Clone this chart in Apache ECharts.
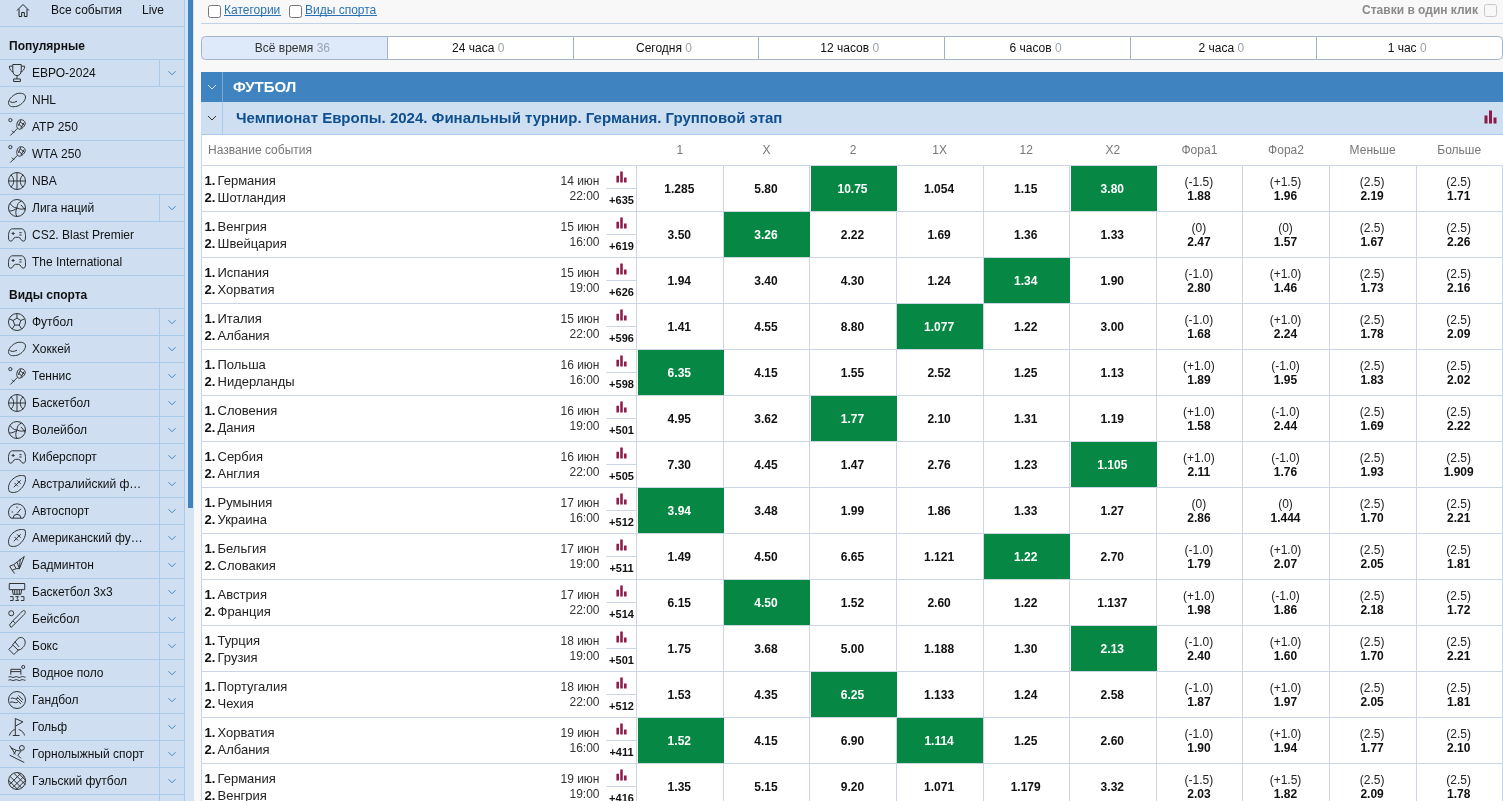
<!DOCTYPE html>
<html>
<head>
<meta charset="utf-8">
<style>
html, body { margin: 0; padding: 0; background: #f8f8f8; overflow: hidden; height: 801px; }
/* the last table row runs past the window, so the canvas is taller than it */
#chart { width: 1503px; height: 840px; }
</style>
<script src="https://cdn.jsdelivr.net/npm/echarts@6/dist/echarts.min.js"></script>
</head>
<body>
<div id="chart"></div>
<script>
// sidebar
const popularNames = ['ЕВРО-2024', 'NHL', 'ATP 250', 'WTA 250', 'NBA', 'Лига наций', 'CS2. Blast Premier', 'The International']
const popularIcons = ['trophy', 'puck', 'racket', 'racket', 'basket', 'volley', 'pad', 'pad']
const popularArrows = [1, 0, 0, 0, 0, 1, 0, 0]
const sportNames = ['Футбол', 'Хоккей', 'Теннис', 'Баскетбол', 'Волейбол', 'Киберспорт', 'Австралийский ф…', 'Автоспорт', 'Американский фу…', 'Бадминтон', 'Баскетбол 3х3', 'Бейсбол', 'Бокс', 'Водное поло', 'Гандбол', 'Гольф', 'Горнолыжный спорт', 'Гэльский футбол', '']
const sportIcons = ['soccer', 'puck', 'racket', 'basket', 'volley', 'pad', 'rugby', 'speed', 'rugby', 'shuttle', 'hoop', 'bat', 'glove', 'water', 'hand', 'golf', 'ski', 'gaelic', 'none']

// time filter
const tabNames = ['Всё время', '24 часа', 'Сегодня', '12 часов', '6 часов', '2 часа', '1 час']
const tabCounts = [36, 0, 0, 0, 0, 0, 0]

// events
const team1 = ['Германия', 'Венгрия', 'Испания', 'Италия', 'Польша', 'Словения', 'Сербия', 'Румыния', 'Бельгия', 'Австрия', 'Турция', 'Португалия', 'Хорватия', 'Германия']
const team2 = ['Шотландия', 'Швейцария', 'Хорватия', 'Албания', 'Нидерланды', 'Дания', 'Англия', 'Украина', 'Словакия', 'Франция', 'Грузия', 'Чехия', 'Албания', 'Венгрия']
const dates = ['14 июн', '15 июн', '15 июн', '15 июн', '16 июн', '16 июн', '16 июн', '17 июн', '17 июн', '17 июн', '18 июн', '18 июн', '19 июн', '19 июн']
const times = ['22:00', '16:00', '19:00', '22:00', '16:00', '19:00', '22:00', '16:00', '19:00', '22:00', '19:00', '22:00', '16:00', '19:00']
const moreBets = ['+635', '+619', '+626', '+596', '+598', '+501', '+505', '+512', '+511', '+514', '+501', '+512', '+411', '+416']

// odds
const oddsColumns = ['1', 'X', '2', '1X', '12', 'X2', 'Фора1', 'Фора2', 'Меньше', 'Больше']
const odds1 = ['1.285', '3.50', '1.94', '1.41', '6.35', '4.95', '7.30', '3.94', '1.49', '6.15', '1.75', '1.53', '1.52', '1.35']
const oddsX = ['5.80', '3.26', '3.40', '4.55', '4.15', '3.62', '4.45', '3.48', '4.50', '4.50', '3.68', '4.35', '4.15', '5.15']
const odds2 = ['10.75', '2.22', '4.30', '8.80', '1.55', '1.77', '1.47', '1.99', '6.65', '1.52', '5.00', '6.25', '6.90', '9.20']
const odds1X = ['1.054', '1.69', '1.24', '1.077', '2.52', '2.10', '2.76', '1.86', '1.121', '2.60', '1.188', '1.133', '1.114', '1.071']
const odds12 = ['1.15', '1.36', '1.34', '1.22', '1.25', '1.31', '1.23', '1.33', '1.22', '1.22', '1.30', '1.24', '1.25', '1.179']
const oddsX2 = ['3.80', '1.33', '1.90', '3.00', '1.13', '1.19', '1.105', '1.27', '2.70', '1.137', '2.13', '2.58', '2.60', '3.32']
const fora1Line = ['(-1.5)', '(0)', '(-1.0)', '(-1.0)', '(+1.0)', '(+1.0)', '(+1.0)', '(0)', '(-1.0)', '(+1.0)', '(-1.0)', '(-1.0)', '(-1.0)', '(-1.5)']
const fora1 = ['1.88', '2.47', '2.80', '1.68', '1.89', '1.58', '2.11', '2.86', '1.79', '1.98', '2.40', '1.87', '1.90', '2.03']
const fora2Line = ['(+1.5)', '(0)', '(+1.0)', '(+1.0)', '(-1.0)', '(-1.0)', '(-1.0)', '(0)', '(+1.0)', '(-1.0)', '(+1.0)', '(+1.0)', '(+1.0)', '(+1.5)']
const fora2 = ['1.96', '1.57', '1.46', '2.24', '1.95', '2.44', '1.76', '1.444', '2.07', '1.86', '1.60', '1.97', '1.94', '1.82']
const totalLine = ['(2.5)', '(2.5)', '(2.5)', '(2.5)', '(2.5)', '(2.5)', '(2.5)', '(2.5)', '(2.5)', '(2.5)', '(2.5)', '(2.5)', '(2.5)', '(2.5)']
const under = ['2.19', '1.67', '1.73', '1.78', '1.83', '1.69', '1.93', '1.70', '2.05', '2.18', '1.70', '2.05', '1.77', '2.09']
const over = ['1.71', '2.26', '2.16', '2.09', '2.02', '2.22', '1.909', '2.21', '1.81', '1.72', '2.21', '1.81', '2.10', '1.78']
// columns won, per event
const winners = [[2, 5], [1], [4], [3], [0], [2], [5], [0], [4], [1], [5], [2], [0, 3], []]

const FONT = '"Liberation Sans", Arial, sans-serif'
const GRID_COLOR = '#ccd5e3'
const SIDE_LINE = '#a9cbe9'
const BLUE = '#3f83c1'
const GREEN = '#068844'
const CRIMSON = '#8c1a4a'

const ICONS = {
  trophy: 'M7 2h10v7c0 4-2 6-5 6s-5-2-5-6Z M7 4H3c0 4 2 6 5 7 M17 4h4c0 4-2 6-5 7 M12 15v4 M8 22v-3h8v3Z',
  puck: 'M2 16c-1-4 4-10 10-12c5-1 10 0 10 4c0 4-4 9-10 11c-5 1-9 1-10-3Z M3 13c2 2 5 2 9 0',
  racket: 'M14 3c4-2 9 2 7 6c-2 4-7 7-9 4c-2-2-1-8 2-10Z M12 13L3 22 M5 16l3 3 M15 5l5 4 M13 8l5 4 M16 3l-3 7 M20 6l-4 7 M3 1a2 2 0 1 0 .1 0Z',
  basket: 'M12 1a11 11 0 1 0 .1 0Z M1 12h22 M12 1v22 M4 4c5 4 5 12 0 16 M20 4c-5 4-5 12 0 16',
  soccer: 'M12 1a11 11 0 1 0 .1 0Z M12 7l5 3l-2 6h-6l-2-6Z M12 7V1 M17 10l5-2 M15 16l3 5 M9 16l-3 5 M7 10L2 8',
  volley: 'M12 1a11 11 0 1 0 .1 0Z M12 12c0-4 2-8 6-9 M12 12c-4 0-7-3-9-6 M12 12c-2 4-2 8 0 11 M12 12c4 2 8 2 11 0 M12 12c-3 3-7 4-10 4 M17 8c2 2 4 4 5 7',
  pad: 'M6 5h12c3 0 5 4 5 9c0 4 0 7-3 7c-3 0-3-5-6-5h-4c-3 0-3 5-6 5s-3-3-3-7c0-5 2-9 5-9Z M7 9v4 M5 11h4 M15 10h3 M15 13h3',
  rugby: 'M3 21c-3-6 1-13 6-16c4-3 9-3 12-2c2 5-1 12-6 16c-3 3-8 4-12 2Z M8 16l8-8 M9 11l4 4 M12 8l4 4',
  speed: 'M4 20a11 11 0 1 1 16 0Z M12 14l5-6 M5 12h2 M12 5v2 M17 20a5 5 0 0 0-10 0',
  shuttle: 'M2 14l3 5l5-2l-3-5Z M7 12L20 2l-6 15l-4 0 M11 9l3 8 M15 5l-1 12 M5 19l3 4',
  hoop: 'M2 2h20v8H2Z M6 10l1 6h10l1-6 M9 10v6 M12 10v6 M15 10v6 M3 19h4v5H3 M10 19h4l-2 2l2 3h-4 M17 19h4v5h-4',
  bat: 'M21 2c2 2 0 4-2 6l-9 9l-3-3l9-9c2-2 3-4 5-3Z M7 14l-4 5l2 3l5-5 M5 2a3 3 0 1 0 .1 0Z',
  glove: 'M7 11l7-8c3-2 7-1 8 3c1 4-1 7-5 10l-4 1 M3 16l5-5l6 6l-5 5Z M10 7l5 6',
  water: 'M4 14v-7h13v7 M4 10h13 M20 2a2 2 0 1 0 .1 0Z M1 17c3-2 5 2 8 0s5 2 8 0s4 1 6 0 M1 21c3-2 5 2 8 0s5 2 8 0s4 1 6 0',
  hand: 'M12 1a11 11 0 1 0 .1 0Z M4 10c4-2 5 2 9 0 M3 15c4-2 6 2 10 0 M14 6l6 6 M12 8l7 7 M11 11l6 6',
  golf: 'M9 22V2l9 4l-9 5 M2 22c2-5 5-7 7-7 M20 22c-1-3-3-6-7-7 M6 22h8',
  ski: 'M17 2a3 3 0 1 0 .1 0Z M4 5l6 3l6 1l-4 5l4 4 M2 14l18 9 M10 8l-3 5 M2 2l7 11',
  gaelic: 'M12 1a11 11 0 1 0 .1 0Z M3 6l15 15 M1 11l12 12 M8 2l15 15 M13 1l10 10 M21 6L6 21 M17 2L2 17 M23 11L11 23',
  chevron: 'M0 0l5 5l5-5',
  bars: 'M0 5h3v8H0Z M4.5 0h3v13h-3Z M9 7h3v6H9Z',
  home: 'M1 10L10 1l9 9 M4 8v11h4v-6h4v6h4V8'
}

const txt = (x, y, text, font, fill, align) => ({
  type: 'text',
  style: { x, y, text, font: font + ' ' + FONT, fill: fill || '#111', align: align || 'left', verticalAlign: 'middle' }
})

const icon = (name, cx, cy, w, h, color, filled) => ({
  type: 'path',
  shape: { pathData: ICONS[name], layout: 'center', x: cx - w / 2, y: cy - h / 2, width: w, height: h },
  style: filled ? { fill: color, stroke: null } : { fill: 'none', stroke: color, lineWidth: 1 }
})

// one row of the sidebar: icon and the arrow box
const sideRenderer = (icons, arrows) => (params, api) => {
  const row = api.value(1)
  const c = api.coord([0, row])
  const h = api.size([0, 1])[1]
  const rect = params.coordSys
  const children = []
  if (icons[row] !== 'none') children.push(icon(icons[row], 17, c[1], 17, 17, '#333'))
  if (arrows[row]) {
    children.push({ type: 'rect', shape: { x: rect.x + 159, y: c[1] - h / 2, width: 1, height: h }, style: { fill: SIDE_LINE } })
    children.push(icon('chevron', rect.x + 172, c[1], 7, 3.5, BLUE))
  }
  return { type: 'group', children }
}

const tabRenderer = (params, api) => {
  const i = api.value(0)
  const c = api.coord([i, 0])
  const s = api.size([1, 1])
  const active = i === 0
  const r = i === 0 ? [4, 0, 0, 4] : (i === tabNames.length - 1 ? [0, 4, 4, 0] : 0)
  const left = Math.round(c[0] - s[0] / 2 - 0.5)
  const right = Math.round(c[0] + s[0] / 2 - 0.5)
  return {
    type: 'group',
    children: [
      {
        type: 'rect',
        shape: { x: left + 0.5, y: c[1] - s[1] / 2, width: right - left, height: s[1], r },
        style: { fill: active ? '#deeafa' : '#fff', stroke: '#a5b3c8', lineWidth: 1 }
      },
      {
        type: 'text',
        style: {
          x: c[0] - 2, y: c[1] + 0.5, align: 'center', verticalAlign: 'middle',
          text: '{n|' + tabNames[i] + '} {c|' + tabCounts[i] + '}',
          rich: {
            n: { font: '12px ' + FONT, fill: active ? '#333' : '#111' },
            c: { font: '12px ' + FONT, fill: '#9aa3ad' }
          }
        }
      }
    ]
  }
}

const eventRenderer = (params, api) => {
  const row = api.value(1)
  const c = api.coord([0, row])
  const rect = params.coordSys
  const x = rect.x
  const y = c[1]
  return {
    type: 'group',
    children: [
      txt(x + 3, y - 7.5, '1.', 'bold 13px'),
      txt(x + 16, y - 7.5, team1[row], '13px', '#222'),
      txt(x + 3, y + 9.5, '2.', 'bold 13px'),
      txt(x + 16, y + 9.5, team2[row], '13px', '#222'),
      txt(x + rect.width - 7, y - 6.5, dates[row], '12px', '#333', 'right'),
      txt(x + rect.width - 7, y + 8.5, times[row], '12px', '#333', 'right')
    ]
  }
}

const statsRenderer = (params, api) => {
  const row = api.value(1)
  const c = api.coord([0, row])
  const rect = params.coordSys
  const cx = rect.x + rect.width / 2
  return {
    type: 'group',
    children: [
      { type: 'rect', shape: { x: rect.x, y: Math.floor(c[1]), width: rect.width, height: 1 }, style: { fill: GRID_COLOR } },
      icon('bars', cx, c[1] - 11.5, 11, 11, CRIMSON, true),
      txt(cx, c[1] + 12, moreBets[row], 'bold 11px', '#111', 'center')
    ]
  }
}

const oddsRows = [odds1, oddsX, odds2, odds1X, odds12, oddsX2, fora1, fora2, under, over]
const oddsLines = [null, null, null, null, null, null, fora1Line, fora2Line, totalLine, totalLine]

const oddsRenderer = (params, api) => {
  const col = api.value(0)
  const row = api.value(1)
  const c = api.coord([col, row])
  const s = api.size([1, 1])
  const won = winners[row].includes(col)
  const children = []
  if (won) {
    children.push({
      type: 'rect',
      shape: { x: Math.round(c[0] - s[0] / 2) + 1, y: c[1] - s[1] / 2 + 0.5, width: Math.round(s[0]) - 1, height: s[1] - 1 },
      style: { fill: GREEN }
    })
  }
  const line = oddsLines[col]
  if (line) {
    children.push(txt(c[0] - 0.5, c[1] - 5.5, line[row], '12px', '#222', 'center'))
    children.push(txt(c[0] - 0.5, c[1] + 8, oddsRows[col][row], 'bold 12px', '#111', 'center'))
  } else {
    children.push(txt(c[0] - 0.5, c[1] + 1, oddsRows[col][row], 'bold 12px', won ? '#fff' : '#111', 'center'))
  }
  return { type: 'group', children }
}

// icons of the page header, no scale behind them
const headerIcons = () => ({
  type: 'group',
  children: [
    icon('home', 23, 10.5, 12, 12, '#222'),
    icon('chevron', 212, 87, 8, 4, '#d8e6f4'),
    icon('chevron', 212, 118, 8, 4, '#333'),
    icon('bars', 1490.5, 117, 13, 13, CRIMSON, true)
  ]
})

const rowIds = team1.map((_, i) => i)
const oddsData = []
rowIds.forEach(r => oddsColumns.forEach((_, c) => oddsData.push([c, r])))

const hiddenValueX = (gridIndex) => ({ type: 'value', gridIndex, min: 0, max: 1, show: false })
const rowsY = (gridIndex, data, lineColor, labels) => ({
  type: 'category', gridIndex, data, inverse: true,
  axisTick: { show: false },
  axisLine: { show: false },
  splitLine: { show: true, interval: 0, lineStyle: { color: lineColor, width: 1 } },
  // bottom aligned with a negative pad, to sit 1px under the row middle
  axisLabel: labels ? { show: true, inside: true, interval: 0, margin: 32, color: '#111', fontSize: 12, fontFamily: FONT, align: 'left', verticalAlign: 'bottom', padding: [0, 0, -7, 0] } : { show: false }
})

const band = (x, y, width, height, fill, z) => ({ type: 'rect', z: z === undefined ? -1 : z, shape: { x, y, width, height }, style: { fill } })
const label = (x, y, text, font, fill, align) => ({
  type: 'text', z: 10, x, y: y + 1,
  style: { text, font: font + ' ' + FONT, fill, align: align || 'left', verticalAlign: 'middle' }
})
const checkbox = (x, y) => ({ type: 'rect', z: 10, shape: { x: x + 0.5, y: y + 0.5, width: 12, height: 12, r: 2 }, style: { fill: '#fff', stroke: '#777', lineWidth: 1 } })

const chrome = [
  // sidebar
  band(0, 0, 185, 840, '#cfdff1'),
  band(185, 0, 9, 840, '#d5e3f3'),
  band(184, 0, 1, 840, SIDE_LINE),
  band(188, 0, 5, 508, BLUE),
  band(0, 26, 184, 1, SIDE_LINE),
  label(51, 10, 'Все события', '12px', '#111'),
  label(142, 10, 'Live', '12px', '#111'),
  label(9, 46, 'Популярные', 'bold 12px', '#111'),
  label(9, 295, 'Виды спорта', 'bold 12px', '#111'),
  // filter row
  band(201, 23, 1302, 1, '#c3d3e6'),
  checkbox(208, 5),
  checkbox(289, 5),
  label(224, 10, 'Категории', '12px', '#2a72b2'),
  band(224, 15, 57, 1, '#2a72b2', 10),
  label(305, 10, 'Виды спорта', '12px', '#2a72b2'),
  band(305, 15, 72, 1, '#2a72b2', 10),
  label(1478, 10, 'Ставки в один клик', 'bold 12px', '#8a8a8a', 'right'),
  { type: 'rect', z: 10, shape: { x: 1484.5, y: 4.5, width: 12, height: 12, r: 2 }, style: { fill: '#f8f8f8', stroke: '#c8c8c8', lineWidth: 1 } },
  // table header
  band(201, 72, 1302, 30, BLUE),
  band(222, 72, 1, 30, '#7aa8d3', 10),
  label(233, 87, 'ФУТБОЛ', 'bold 15px', '#fff'),
  band(201, 102, 1302, 32, '#cddff1'),
  band(201, 134, 1302, 1, SIDE_LINE, 10),
  band(222, 102, 1, 32, SIDE_LINE, 10),
  label(236, 118, 'Чемпионат Европы. 2024. Финальный турнир. Германия. Групповой этап', 'bold 15px', '#0f4f8f'),
  band(201, 135, 1302, 31, '#fff'),
  band(201, 135, 1, 705, GRID_COLOR, 10),
  label(208, 149.5, 'Название события', '12px', '#777')
]

const chart = echarts.init(document.getElementById('chart'))
chart.setOption({
  animation: false,
  graphic: { elements: chrome },
  grid: [
    { left: 0, top: 59.5, width: 184, height: popularNames.length * 27 },
    { left: 0, top: 308.5, width: 184, height: sportNames.length * 27 },
    { left: 201.5, top: 36.5, width: 1300.5, height: 23 },
    { left: 201.5, top: 165.5, width: 405, height: team1.length * 46, show: true, backgroundColor: '#fff', borderWidth: 0 },
    { left: 606.5, top: 165.5, width: 30, height: team1.length * 46, show: true, backgroundColor: '#fff', borderWidth: 0 },
    { left: 636.5, top: 165.5, width: 866, height: team1.length * 46, show: true, backgroundColor: '#fff', borderWidth: 0 }
  ],
  xAxis: [
    hiddenValueX(0),
    hiddenValueX(1),
    { type: 'category', gridIndex: 2, data: tabNames, show: false },
    hiddenValueX(3),
    hiddenValueX(4),
    {
      type: 'category', gridIndex: 5, data: oddsColumns, position: 'top',
      axisTick: { show: false },
      axisLine: { show: false },
      splitLine: { show: true, interval: 0, lineStyle: { color: GRID_COLOR } },
      axisLabel: { interval: 0, margin: 9, color: '#777', fontSize: 12, fontFamily: FONT }
    }
  ],
  yAxis: [
    rowsY(0, popularNames, SIDE_LINE, true),
    rowsY(1, sportNames, SIDE_LINE, true),
    { type: 'category', gridIndex: 2, data: ['filter'], show: false },
    rowsY(3, team1, GRID_COLOR, false),
    rowsY(4, team1, GRID_COLOR, false),
    rowsY(5, team1, GRID_COLOR, false)
  ],
  series: [
    { type: 'custom', xAxisIndex: 0, yAxisIndex: 0, renderItem: sideRenderer(popularIcons, popularArrows), data: popularNames.map((_, i) => [0, i]), encode: { x: 0, y: 1 }, silent: true, clip: false },
    { type: 'custom', xAxisIndex: 1, yAxisIndex: 1, renderItem: sideRenderer(sportIcons, sportNames.map(() => 1)), data: sportNames.map((_, i) => [0, i]), encode: { x: 0, y: 1 }, silent: true, clip: false },
    { type: 'custom', xAxisIndex: 2, yAxisIndex: 2, renderItem: tabRenderer, data: tabNames.map((_, i) => [i, 0]), encode: { x: 0, y: 1 }, silent: true, clip: false },
    { type: 'custom', xAxisIndex: 3, yAxisIndex: 3, renderItem: eventRenderer, data: rowIds.map(i => [0, i]), encode: { x: 0, y: 1 }, silent: true, clip: false },
    { type: 'custom', xAxisIndex: 4, yAxisIndex: 4, renderItem: statsRenderer, data: rowIds.map(i => [0, i]), encode: { x: 0, y: 1 }, silent: true, clip: false },
    { type: 'custom', xAxisIndex: 5, yAxisIndex: 5, renderItem: oddsRenderer, data: oddsData, encode: { x: 0, y: 1 }, silent: true, clip: false },
    { type: 'custom', coordinateSystem: 'none', renderItem: headerIcons, data: [[0]], silent: true, z: 20 }
  ]
})
</script>
</body>
</html>
